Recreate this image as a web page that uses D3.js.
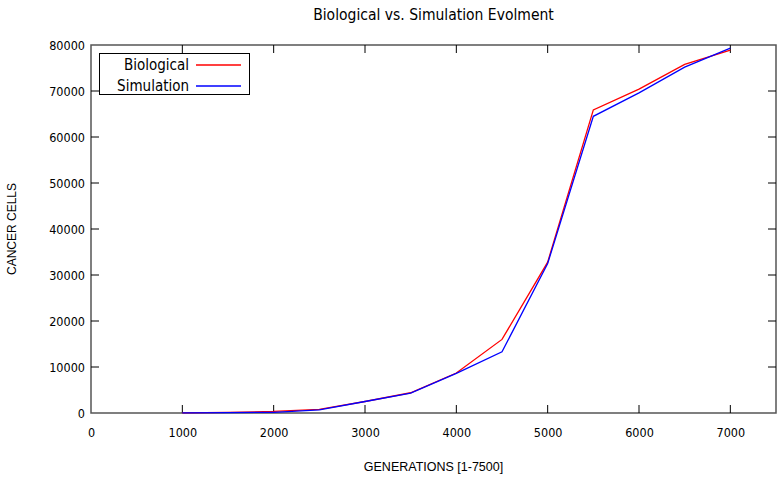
<!DOCTYPE html>
<html>
<head>
<meta charset="utf-8">
<script src="https://cdn.jsdelivr.net/npm/d3@7"></script>
<style>
  body { margin: 0; background: #fff; }
  text { font-family: "Liberation Sans", Arial, sans-serif; fill: #000; }
  .cond { font-family: "DejaVu Sans Condensed", "DejaVu Sans", sans-serif; }
</style>
</head>
<body>
<script>
// generations sampled every 500
var generations = [1000, 1500, 2000, 2500, 3000, 3500, 4000, 4500, 5000, 5500, 6000, 6500, 7000];
var biological = [30, 120, 350, 800, 2500, 4400, 8700, 16000, 32800, 65900, 70400, 75800, 78900];
var simulation = [20, 80, 150, 700, 2500, 4300, 8600, 13300, 32500, 64500, 69600, 75200, 79300];
var xTicks = [0, 1000, 2000, 3000, 4000, 5000, 6000, 7000];
var yTicks = [0, 10000, 20000, 30000, 40000, 50000, 60000, 70000, 80000];

var width = 782, height = 484;
var margin = {left: 91, right: 6, top: 45, bottom: 71};

var svg = d3.select("body").append("svg")
    .attr("width", width)
    .attr("height", height);

var x = d3.scaleLinear().domain([0, 7500]).range([margin.left, width - margin.right]);
var y = d3.scaleLinear().domain([0, 80000]).range([height - margin.bottom, margin.top]);

var tickLen = 8;

// border
svg.append("rect")
    .attr("x", x(0)).attr("y", y(80000))
    .attr("width", x(7500) - x(0)).attr("height", y(0) - y(80000))
    .attr("fill", "none").attr("stroke", "#555").attr("stroke-width", 1.5);

// inward ticks on all four sides
var bottomAxis = d3.axisBottom(x).tickValues(xTicks).tickSize(0).tickPadding(15).tickFormat(d3.format("d"));
var gx = svg.append("g").attr("transform", "translate(0," + y(0) + ")").call(bottomAxis);
gx.select(".domain").remove();
gx.selectAll("text").attr("class", "cond").style("font-size", "12.5px");

var leftAxis = d3.axisLeft(y).tickValues(yTicks).tickSize(0).tickPadding(6).tickFormat(d3.format("d"));
var gy = svg.append("g").attr("transform", "translate(" + x(0) + ",0)").call(leftAxis);
gy.select(".domain").remove();
gy.selectAll("text").attr("class", "cond").style("font-size", "12.5px");

var ticks = svg.append("g").attr("stroke", "#000").attr("stroke-width", 1);
xTicks.filter(d => d > 0).forEach(function(d) {
  ticks.append("line").attr("x1", x(d)).attr("x2", x(d)).attr("y1", y(0)).attr("y2", y(0) - tickLen);
  ticks.append("line").attr("x1", x(d)).attr("x2", x(d)).attr("y1", y(80000)).attr("y2", y(80000) + tickLen);
});
yTicks.filter(d => d > 0 && d < 80000).forEach(function(d) {
  ticks.append("line").attr("x1", x(0)).attr("x2", x(0) + tickLen).attr("y1", y(d)).attr("y2", y(d));
  ticks.append("line").attr("x1", x(7500)).attr("x2", x(7500) - tickLen).attr("y1", y(d)).attr("y2", y(d));
});

// lines
var line = d3.line().x((d, i) => x(generations[i])).y(d => y(d));

svg.append("path").datum(biological)
    .attr("d", line).attr("fill", "none").attr("stroke", "#ff0000").attr("stroke-width", 1.3);
svg.append("path").datum(simulation)
    .attr("d", line).attr("fill", "none").attr("stroke", "#0000ff").attr("stroke-width", 1.3);

// title and axis labels
svg.append("text").attr("class", "cond")
    .attr("x", (x(0) + x(7500)) / 2).attr("y", 20)
    .attr("text-anchor", "middle").style("font-size", "15.5px")
    .text("Biological vs. Simulation Evolment");

svg.append("text")
    .attr("x", (x(0) + x(7500)) / 2).attr("y", 471)
    .attr("text-anchor", "middle").style("font-size", "12.5px")
    .text("GENERATIONS [1-7500]");

svg.append("text")
    .attr("transform", "translate(16," + ((y(0) + y(80000)) / 2) + ") rotate(-90)")
    .attr("text-anchor", "middle").style("font-size", "12px")
    .text("CANCER CELLS");

// legend
var legend = svg.append("g");
legend.append("rect")
    .attr("x", 99.5).attr("y", 53.5).attr("width", 150).attr("height", 41)
    .attr("fill", "#fff").attr("stroke", "#000").attr("stroke-width", 1);
var items = [["Biological", "#ff0000"], ["Simulation", "#0000ff"]];
items.forEach(function(it, i) {
  var cy = 65 + i * 21;
  legend.append("text").attr("class", "cond").attr("x", 189).attr("y", cy + 5)
      .attr("text-anchor", "end").style("font-size", "15px").text(it[0]);
  legend.append("line").attr("x1", 196).attr("x2", 241).attr("y1", cy).attr("y2", cy)
      .attr("stroke", it[1]).attr("stroke-width", 1.3);
});
</script>
</body>
</html>
